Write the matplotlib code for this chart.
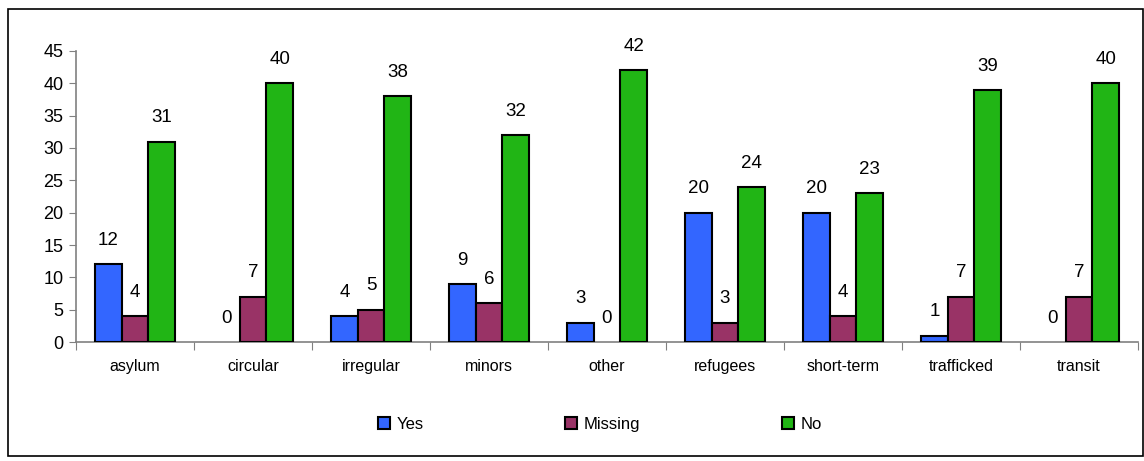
import numpy as np
import matplotlib.pyplot as plt
from matplotlib.patches import Rectangle

plt.rcParams['font.family'] = ['Liberation Sans', 'DejaVu Sans']

categories = ['asylum', 'circular', 'irregular', 'minors', 'other',
              'refugees', 'short-term', 'trafficked', 'transit']
yes = [12, 0, 4, 9, 3, 20, 20, 1, 0]
missing = [4, 7, 5, 6, 0, 3, 4, 7, 7]
no = [31, 40, 38, 32, 42, 24, 23, 39, 40]

series = [('Yes', yes, '#3366FF'),
          ('Missing', missing, '#993366'),
          ('No', no, '#21B515')]

fig = plt.figure(figsize=(11.44, 4.61), dpi=100)
ax = fig.add_axes([76 / 1144, 1 - 342 / 461, (1138 - 76) / 1144, (342 - 51) / 461])

x = np.arange(len(categories))
w = 0.226
for i, (name, vals, col) in enumerate(series):
    pos = x + (i - 1) * w
    # empty bars get no outline
    lw = [1.5 if v > 0 else 0 for v in vals]
    ax.bar(pos, vals, w, color=col, edgecolor='black', linewidth=lw,
           label=name, zorder=3)
    for xp, v in zip(pos, vals):
        ax.annotate(str(v), (xp, v), xytext=(0, 11), textcoords='offset points',
                    ha='center', va='bottom', fontsize=13.5)

ax.set_xlim(-0.5, len(categories) - 0.5)
ax.set_ylim(0, 45)
ax.set_yticks(range(0, 50, 5))
ax.tick_params(axis='y', labelsize=13, length=5, color='#808080', pad=4)

# category names centred, tick marks between groups
ax.set_xticks(np.arange(len(categories) + 1) - 0.5)
ax.set_xticklabels([])
ax.set_xticks(x, minor=True)
ax.set_xticklabels(categories, minor=True, fontsize=11.5)
ax.tick_params(axis='x', which='major', length=6, color='#808080')
ax.tick_params(axis='x', which='minor', length=0, pad=12)

for s in ['top', 'right']:
    ax.spines[s].set_visible(False)
for s in ['left', 'bottom']:
    ax.spines[s].set_color('#808080')
    ax.spines[s].set_linewidth(1.2)

leg = fig.legend(loc='center', bbox_to_anchor=(600 / 1144, 1 - 424 / 461), ncol=3,
                 frameon=False, fontsize=12, handlelength=0.7, handleheight=0.7,
                 handletextpad=0.4, columnspacing=8.5)
for h in leg.legend_handles:
    h.set_linewidth(1.5)

fig.add_artist(Rectangle((8 / 1144, 1 - 456 / 461), (1143 - 8) / 1144, (456 - 9) / 461,
                         transform=fig.transFigure, fill=False,
                         edgecolor='black', linewidth=1.2))

fig.savefig('out.png', dpi=100)
